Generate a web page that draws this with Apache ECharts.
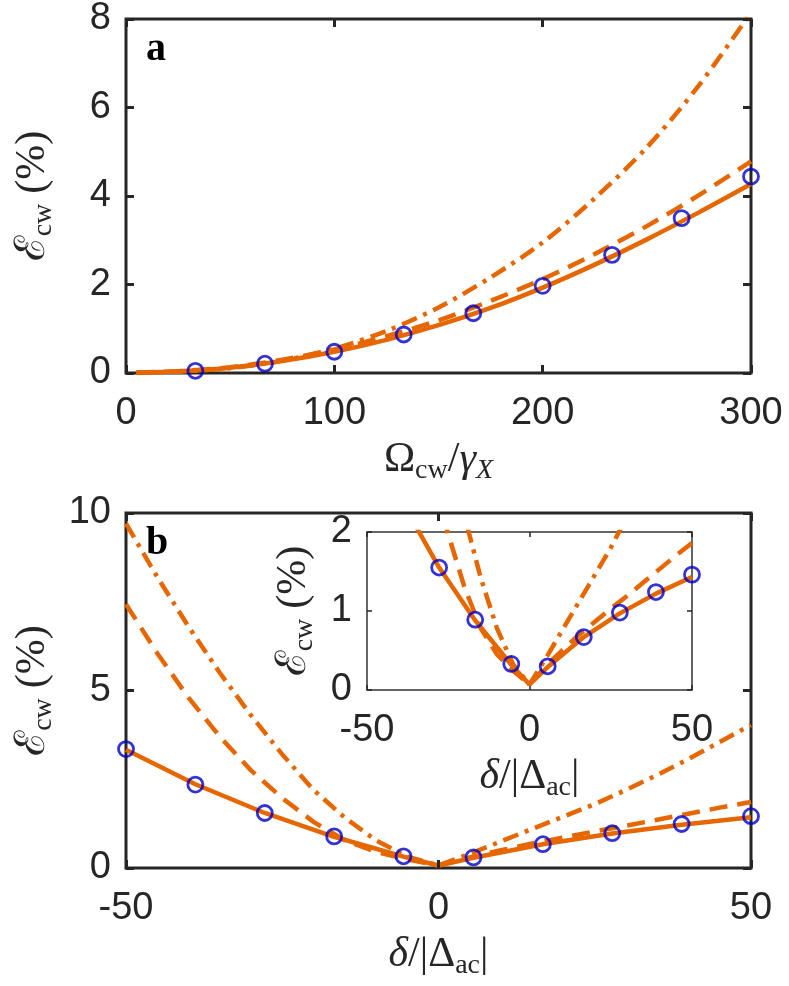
<!DOCTYPE html>
<html>
<head>
<meta charset="utf-8">
<script src="https://cdn.jsdelivr.net/npm/echarts@6/dist/echarts.min.js"></script>
<style>
  html, body { margin: 0; padding: 0; background: #fff; }
  #chart { width: 789px; height: 986px; }
</style>
</head>
<body>
<div id="chart"></div>
<script>
// panel a: efficiency vs drive strength
const aLineX = [5, 25, 50, 75, 100, 125, 150, 175, 200, 225, 250, 275, 300];
const aSolid = [0.01, 0.04, 0.12, 0.27, 0.48, 0.75, 1.08, 1.47, 1.93, 2.45, 3.02, 3.63, 4.27];
const aDash = [0.01, 0.04, 0.13, 0.30, 0.53, 0.83, 1.19, 1.63, 2.12, 2.69, 3.32, 4.02, 4.78];
const aDashDot = [0.0, 0.03, 0.11, 0.28, 0.55, 0.95, 1.48, 2.16, 2.95, 3.95, 5.10, 6.50, 8.15];
const aMarkX = [33.3, 66.7, 100, 133.3, 166.7, 200, 233.3, 266.7, 300];
const aMarkY = [0.05, 0.21, 0.48, 0.87, 1.35, 1.97, 2.67, 3.50, 4.44];

// panel b: efficiency vs detuning
const bSolidX = [-50, -38.9, -27.8, -16.7, -5.6, 0, 5.6, 16.7, 27.8, 38.9, 50];
const bSolid = [3.33, 2.36, 1.55, 0.88, 0.32, 0.07, 0.29, 0.67, 0.97, 1.22, 1.43];
const bCurveX = [-50, -45, -40, -35, -30, -25, -20, -15, -10, -5, 0, 5, 10, 15, 20, 25, 30, 35, 40, 45, 50];
const bDash = [7.43, 6.05, 4.8, 3.7, 2.75, 1.97, 1.3, 0.78, 0.45, 0.24, 0.07, 0.3, 0.5, 0.69, 0.86, 1.03, 1.19, 1.36, 1.53, 1.70, 1.86];
const bDashDot = [9.7, 8.2, 6.8, 5.5, 4.3, 3.2, 2.2, 1.42, 0.78, 0.32, 0.07, 0.4, 0.75, 1.1, 1.45, 1.8, 2.2, 2.62, 3.07, 3.55, 4.03];
const bMarkX = [-50, -38.9, -27.8, -16.7, -5.6, 5.6, 16.7, 27.8, 38.9, 50];
const bMarkY = [3.35, 2.35, 1.55, 0.89, 0.33, 0.30, 0.67, 0.98, 1.24, 1.46];

// [min, max, interval]
const aTicksX = [0, 300, 100];
const aTicksY = [0, 8, 2];
const bTicksX = [-50, 50, 50];
const bTicksY = [0, 10, 5];
const insetTicksY = [0, 2, 1];

const ORANGE = "#E66600";
const BLUE = "#0000C8";
const INK = "#262626";

function pts(xs, ys) {
    return xs.map((x, i) => [x, ys[i]]);
}

const serif = "'Liberation Serif', 'DejaVu Serif', serif";
const nameRich = {
    e: { fontFamily: "'DejaVu Serif', serif", fontSize: 42, color: INK, lineHeight: 50, verticalAlign: "middle" },
    s: { fontFamily: serif, fontSize: 28, color: INK, lineHeight: 50, verticalAlign: "bottom", padding: [14, 0, 0, 0] },
    p: { fontFamily: serif, fontSize: 42, color: INK, lineHeight: 50, verticalAlign: "middle" },
    i: { fontFamily: serif, fontSize: 42, fontStyle: "italic", color: INK, lineHeight: 50, verticalAlign: "middle" },
    si: { fontFamily: serif, fontSize: 28, fontStyle: "italic", color: INK, lineHeight: 50, verticalAlign: "bottom", padding: [14, 0, 0, 0] },
};
const yName = "{e|ℰ}{s|cw}   {p|(%)}";
const omegaName = "{p|Ω}{s|cw}{p|/}{i|γ}{si|X}";
const deltaName = "{i|δ}{p|/|Δ}{s|ac}{p||}";

/* build one x or y axis; mirror=true gives the tick-only copy on the far side */
function makeAxis(dim, grid, ticks, mirror, name, nameGap, tickW) {
    const ax = {
        type: "value",
        gridIndex: grid,
        min: ticks[0],
        max: ticks[1],
        interval: ticks[2],
        position: dim === "x" ? (mirror ? "top" : "bottom") : (mirror ? "right" : "left"),
        splitLine: { show: false },
        axisLine: { show: false, onZero: false },
        axisTick: { show: true, inside: true, length: tickW > 2 ? 8 : 5, lineStyle: { color: INK, width: tickW } },
        axisLabel: {
            show: !mirror,
            color: INK,
            fontFamily: "'Liberation Sans', Arial, sans-serif",
            fontSize: 38,
            margin: dim === "x" ? 22 : 15,
        },
        z: grid === 2 ? 6 : 3,
    };
    if (name && !mirror) {
        ax.name = name;
        ax.nameLocation = "middle";
        ax.nameGap = nameGap;
        ax.nameTextStyle = { rich: nameRich };
    }
    return ax;
}

function lineSeries(xi, data, type, z, smooth) {
    return {
        type: "line",
        xAxisIndex: xi,
        yAxisIndex: xi,
        data: data,
        showSymbol: false,
        silent: true,
        clip: true,
        smooth: smooth,
        z: z,
        lineStyle: { color: ORANGE, width: 4.5, type: type, cap: "butt" },
    };
}

function markSeries(xi, data, z) {
    return {
        type: "scatter",
        xAxisIndex: xi,
        yAxisIndex: xi,
        data: data,
        symbol: "circle",
        symbolSize: 15,
        z: z + 1,
        itemStyle: { color: "rgba(0,0,0,0)", borderColor: BLUE, borderWidth: 2.8 },
    };
}

const DASH = [18, 10];
const DASHDOT = [16, 7, 4, 7];

let myChart = echarts.init(document.getElementById("chart"), null, { renderer: "canvas" });
option = {
    backgroundColor: "#fff",
    animation: false,
    grid: [
        { left: 126, top: 19, width: 625, height: 354, show: true, borderColor: INK, borderWidth: 3 },
        { left: 126, top: 513, width: 625, height: 355, show: true, borderColor: INK, borderWidth: 3 },
        { left: 367, top: 532, width: 325, height: 158, show: true, borderColor: "#333", borderWidth: 1.5, z: 5 },
    ],
    xAxis: [
        makeAxis("x", 0, aTicksX, false, omegaName, 62, 3),
        makeAxis("x", 0, aTicksX, true, null, 0, 3),
        makeAxis("x", 1, bTicksX, false, deltaName, 62, 3),
        makeAxis("x", 1, bTicksX, true, null, 0, 3),
        makeAxis("x", 2, bTicksX, false, deltaName, 62, 1.5),
        makeAxis("x", 2, bTicksX, true, null, 0, 1.5),
    ],
    yAxis: [
        makeAxis("y", 0, aTicksY, false, yName, 68, 3),
        makeAxis("y", 0, aTicksY, true, null, 0, 3),
        makeAxis("y", 1, bTicksY, false, yName, 68, 3),
        makeAxis("y", 1, bTicksY, true, null, 0, 3),
        makeAxis("y", 2, insetTicksY, false, yName, 48, 1.5),
        makeAxis("y", 2, insetTicksY, true, null, 0, 1.5),
    ],
    graphic: [
        { type: "text", left: 146, top: 30, z: 20, style: { text: "a", font: "bold 40px " + serif, fill: "#000" } },
        { type: "text", left: 146, top: 524, z: 20, style: { text: "b", font: "bold 40px " + serif, fill: "#000" } },
    ],
    series: [
        lineSeries(0, pts(aLineX, aDashDot), DASHDOT, 2, 0.3),
        lineSeries(0, pts(aLineX, aDash), DASH, 2, 0.3),
        lineSeries(0, pts(aLineX, aSolid), "solid", 2, 0.3),
        markSeries(0, pts(aMarkX, aMarkY), 2),

        lineSeries(2, pts(bCurveX, bDashDot), DASHDOT, 2, false),
        lineSeries(2, pts(bCurveX, bDash), DASH, 2, false),
        lineSeries(2, pts(bSolidX, bSolid), "solid", 2, false),
        markSeries(2, pts(bMarkX, bMarkY), 2),

        lineSeries(4, pts(bCurveX, bDashDot), DASHDOT, 7, false),
        lineSeries(4, pts(bCurveX, bDash), DASH, 7, false),
        lineSeries(4, pts(bSolidX, bSolid), "solid", 7, false),
        markSeries(4, pts(bMarkX, bMarkY), 7),
    ],
};
myChart.setOption(option);
window.addEventListener("resize", function () {
    myChart.resize();
});
</script>
</body>
</html>
